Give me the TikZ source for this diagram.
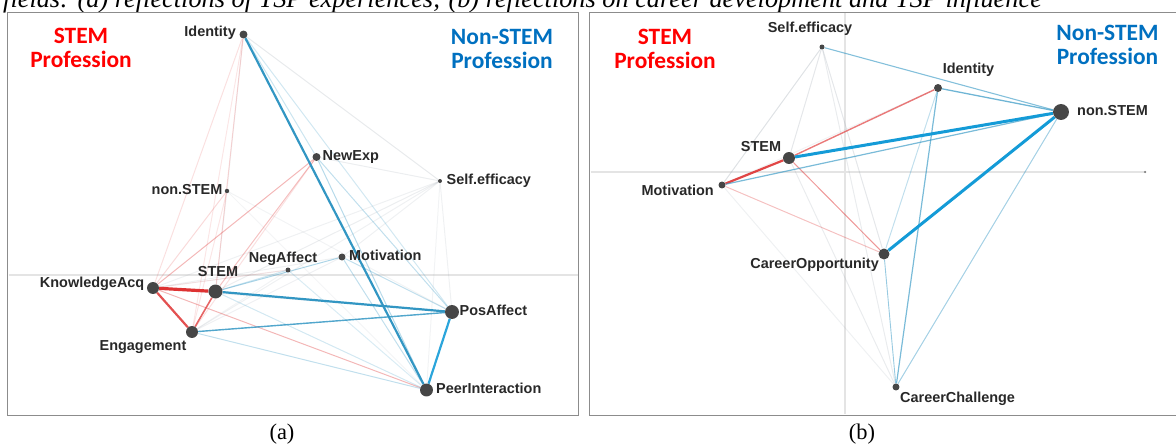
\documentclass[tikz,border=0pt]{standalone}
\usepackage{fontspec}
\setmainfont{Liberation Serif}
\newfontfamily\lblfont{Liberation Sans}
\newfontfamily\proffont{Carlito}
\pgfdeclarelayer{bg}
\pgfsetlayers{bg,main}
\definecolor{dotgray}{RGB}{70,70,70}
\definecolor{lblgray}{RGB}{40,40,40}
\definecolor{framegray}{RGB}{140,140,140}
\definecolor{axisgray}{RGB}{228,228,228}
\definecolor{stemred}{RGB}{255,0,0}
\definecolor{nonblue}{RGB}{0,112,192}
\definecolor{edred}{RGB}{222,50,50}
\definecolor{edblue}{RGB}{50,150,195}
\definecolor{edbright}{RGB}{20,155,215}
\definecolor{edgray}{RGB}{150,160,170}
\begin{document}
\begin{tikzpicture}[x=1bp,y=-1bp,
  vdot/.style={circle, fill=dotgray, draw=none, inner sep=0pt, minimum size=#1},
  lbl/.style={font=\lblfont\bfseries\fontsize{14.5}{15}\selectfont, text=lblgray, inner sep=0pt},
  prof/.style={font=\proffont\bfseries\fontsize{23.5}{24}\selectfont, align=center, inner sep=0pt},
  panelframe/.style={draw=framegray, line width=1.5bp},
  axisline/.style={draw=axisgray, line width=1.2bp},
  ed/.style n args={3}{draw=#1, line width=#2, draw opacity=#3},
  capfont/.style={font=\fontsize{22.5}{24}\selectfont, inner sep=0pt}]
\useasboundingbox (0,0) rectangle (1176,448);

% caption line running above the panels
\node[inner sep=0pt, font=\itshape\fontsize{26.4}{28}\selectfont, anchor=base west] (topcap) at (3,7.5)
  {fields: (a) reflections of YSP experiences; (b) reflections on career development and YSP influence};

% panel frames and sub-captions
\draw[panelframe] (7.5,12.5) rectangle (578.5,415.5);
\draw[panelframe] (589.5,12.5) rectangle (1185,415.5);
\node[capfont] (capa) at (282,434) {(a)};
\node[capfont] (capb) at (862,434) {(b)};

% ---------- panel (a) ----------
\begin{pgfonlayer}{bg}
\draw[axisline] (8.5,275) -- (577.5,275);
\end{pgfonlayer}

\node[vdot=8]  (lId) at (243.5,34.5) {};
\node[vdot=8]  (lNE) at (316.5,157) {};
\node[vdot=4.5](lNS) at (227,191) {};
\node[vdot=4]  (lSE) at (440,181) {};
\node[vdot=5]  (lNA) at (288,270) {};
\node[vdot=7]  (lMo) at (342,257) {};
\node[vdot=14] (lST) at (215.5,291.5) {};
\node[vdot=12] (lKA) at (153,288) {};
\node[vdot=12] (lEn) at (192,332) {};
\node[vdot=14] (lPA) at (452,312) {};
\node[vdot=13] (lPI) at (426.5,390) {};

\node[lbl, anchor=mid east] (tlId) at (236,34.5) {Identity};
\node[lbl, anchor=mid west] (tlNE) at (322.5,158) {NewExp};
\node[lbl, anchor=mid east] (tlNS) at (222.5,192.5) {non.STEM};
\node[lbl, anchor=mid west] (tlSE) at (446.5,182) {Self.efficacy};
\node[lbl] (tlNA) at (283,259) {NegAffect};
\node[lbl, anchor=mid west] (tlMo) at (349,258) {Motivation};
\node[lbl] (tlST) at (218,272) {STEM};
\node[lbl, anchor=mid east] (tlKA) at (144.5,285.5) {KnowledgeAcq};
\node[lbl] (tlEn) at (143,347) {Engagement};
\node[lbl, anchor=mid west] (tlPA) at (459.5,313) {PosAffect};
\node[lbl, anchor=mid west] (tlPI) at (436,391) {PeerInteraction};

\node[prof, text=stemred] (lprofS) at (81,48) {STEM\\Profession};
\node[prof, text=nonblue] (lprofN) at (502,48.5) {Non-STEM\\Profession};

\begin{pgfonlayer}{bg}
% faint links
\foreach \a/\b/\o in {lId/lSE/.22, lNS/lPA/.12, lNS/lPI/.1, lSE/lKA/.15, lSE/lST/.18,
    lSE/lEn/.15, lSE/lPA/.15, lSE/lPI/.12, lSE/lNE/.18, lNA/lKA/.12, lNA/lEn/.12,
    lEn/lMo/.15, lKA/lPA/.15, lKA/lMo/.15, lSE/lMo/.15, lNS/lST/.12, lId/lNS/.1}
  \draw[ed={edgray}{1bp}{\o}] (\a) -- (\b);
\foreach \a/\b/\o in {lNE/lKA/.35, lNE/lST/.3, lKA/lPI/.35, lId/lKA/.15, lId/lST/.2,
    lId/lEn/.12, lNS/lKA/.18, lEn/lNE/.15, lNS/lEn/.12, lKA/lNA/.1}
  \draw[ed={edred}{1bp}{\o}] (\a) -- (\b);
\foreach \a/\b/\o in {lST/lMo/.4, lEn/lPI/.3, lNE/lPI/.35, lMo/lPI/.3, lMo/lPA/.3,
    lId/lPA/.22, lId/lNE/.25, lNA/lPI/.18, lST/lPI/.22, lNE/lPA/.3, lST/lNA/.25}
  \draw[ed={edblue}{1bp}{\o}] (\a) -- (\b);
% strong links
\draw[ed={edred}{3.2bp}{1}] (lKA) -- (lST);
\draw[ed={edred}{2.2bp}{.85}] (lKA) -- (lEn);
\draw[ed={edred}{1.6bp}{.75}] (lST) -- (lEn);
\draw[ed={edblue}{2.2bp}{1}] (lST) -- (lPA);
\draw[ed={edblue}{1.4bp}{.85}] (lEn) -- (lPA);
\draw[ed={edblue}{2.2bp}{1}] (lId) -- (lPI);
\draw[ed={edbright}{2.2bp}{.9}] (lPA) -- (lPI);
\end{pgfonlayer}

% ---------- panel (b) ----------
\begin{pgfonlayer}{bg}
\draw[axisline] (590.5,172) -- coordinate[pos=1] (axend) (1145,172);
\draw[axisline] (845,13.5) -- (845,414.5);
\end{pgfonlayer}
\node[circle, fill=gray, inner sep=0pt, minimum size=2.5] (axdot) at (axend) {};

\node[vdot=5]  (rSE) at (822,47) {};
\node[vdot=8]  (rId) at (938,88) {};
\node[vdot=16] (rNS) at (1061,112) {};
\node[vdot=12] (rST) at (789,158) {};
\node[vdot=7]  (rMo) at (722,185) {};
\node[vdot=11] (rCO) at (884,254) {};
\node[vdot=7]  (rCC) at (896,387) {};

\node[lbl] (trSE) at (810,29) {Self.efficacy};
\node[lbl] (trId) at (968.5,70) {Identity};
\node[lbl, anchor=mid west] (trNS) at (1077,113) {non.STEM};
\node[lbl] (trST) at (761,147) {STEM};
\node[lbl, anchor=mid east] (trMo) at (714,193) {Motivation};
\node[lbl, anchor=mid east] (trCO) at (879,266) {CareerOpportunity};
\node[lbl, anchor=mid west] (trCC) at (900,400) {CareerChallenge};

\node[prof, text=stemred] (rprofS) at (665,49) {STEM\\Profession};
\node[prof, text=nonblue] (rprofN) at (1107.5,45) {Non-STEM\\Profession};

\begin{pgfonlayer}{bg}
\foreach \a/\b/\o in {rSE/rMo/.3, rSE/rST/.25, rSE/rCO/.25, rSE/rCC/.2, rMo/rCC/.15,
    rST/rCC/.2, rMo/rId/.12}
  \draw[ed={edgray}{1bp}{\o}] (\a) -- (\b);
\draw[ed={edred}{1bp}{.3}] (rMo) -- (rCO);
\draw[ed={edred}{1bp}{.5}] (rST) -- (rCO);
\draw[ed={edred}{1.4bp}{.65}] (rST) -- (rId);
\draw[ed={edred}{2.2bp}{.9}] (rMo) -- (rST);
\draw[ed={edblue}{1bp}{.3}] (rId) -- (rCO);
\draw[ed={edblue}{1.2bp}{.65}] (rMo) -- (rNS);
\draw[ed={edblue}{1.3bp}{.7}] (rId) -- (rNS);
\draw[ed={edblue}{1.1bp}{.6}] (rSE) -- (rNS);
\draw[ed={edblue}{1.2bp}{.65}] (rId) -- (rCC);
\draw[ed={edblue}{1bp}{.45}] (rNS) -- (rCC);
\draw[ed={edblue}{.9bp}{.5}] (rCO) -- (rCC);
\draw[ed={edbright}{3bp}{1}] (rST) -- (rNS);
\draw[ed={edbright}{3bp}{1}] (rCO) -- (rNS);
\end{pgfonlayer}
\end{tikzpicture}
\end{document}
